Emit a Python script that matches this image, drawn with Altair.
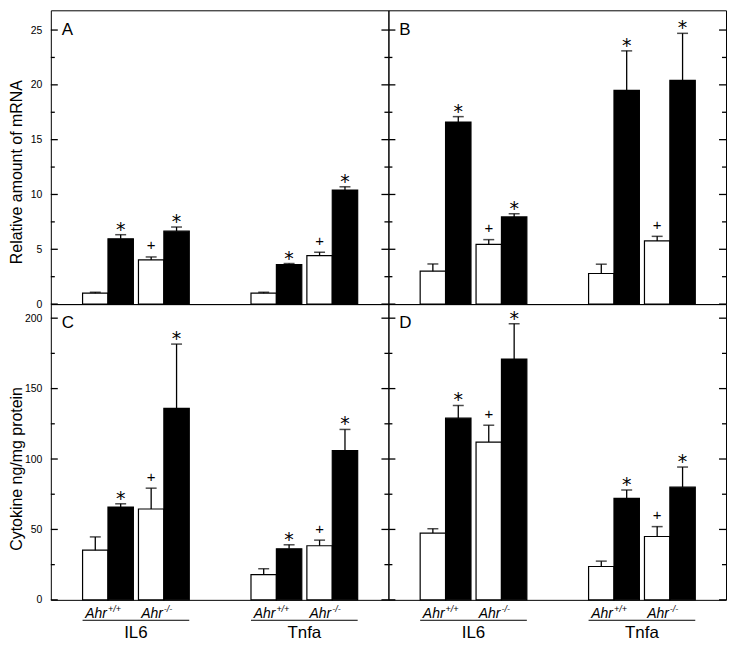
import altair as alt
import pandas as pd

# ---------------- data ----------------
genes = ["IL6", "Tnfa"]
genotypes = ["+/+", "-/-"]
treatments = ["control", "treated"]

# order per panel: IL6 +/+ ctrl, IL6 +/+ trt, IL6 -/- ctrl, IL6 -/- trt, Tnfa (same order)
a_mean = [1.0, 5.95, 4.03, 6.65, 1.0, 3.6, 4.42, 10.4]
a_sem = [0.08, 0.38, 0.27, 0.38, 0.08, 0.1, 0.31, 0.3]
b_mean = [3.0, 16.6, 5.45, 7.95, 2.79, 19.5, 5.76, 20.4]
b_sem = [0.66, 0.5, 0.43, 0.29, 0.85, 3.6, 0.42, 4.3]
c_mean = [35.3, 65.9, 64.5, 136.0, 17.9, 36.2, 38.4, 106.0]
c_sem = [9.4, 2.3, 14.8, 45.6, 4.2, 2.9, 4.0, 15.0]
d_mean = [47.4, 129.0, 112.0, 171.0, 23.7, 72.0, 45.0, 80.0]
d_sem = [3.1, 9.0, 12.0, 25.0, 3.8, 6.0, 7.0, 14.3]
signif = ["", "*", "+", "*", "", "*", "+", "*"]

mrna_ticks = [0, 5, 10, 15, 20, 25]
mrna_minor = [2.5, 7.5, 12.5, 17.5, 22.5]
prot_ticks = [0, 50, 100, 150, 200]
prot_minor = [25, 75, 125, 175]

# ---------------- layout (bar-width units) ----------------
BAR_W = 1.0
X_START = 1.25
GENE_STEP = 6.63
GENO_STEP = 2.2
X_MAX = 13.29
W = 339
H_TOP = 295
H_BOT = 297
FONT = "Liberation Sans"
MAJ = 7
MIN = 4

rows = []
i = 0
for g, gene in enumerate(genes):
    for k, geno in enumerate(genotypes):
        for t, tr in enumerate(treatments):
            s = X_START + g * GENE_STEP + k * GENO_STEP + t * BAR_W
            rows.append(dict(gene=gene, geno=geno, treat=tr, x0=s, x1=s + BAR_W,
                             xc=s + BAR_W / 2, sig=signif[i]))
            i += 1
base = pd.DataFrame(rows)

geno_df = (base[base.treat == "treated"][["gene", "geno", "x0"]]
           .rename(columns={"x0": "xc"}).reset_index(drop=True))
gene_df = base.groupby("gene", sort=False).agg(x0=("x0", "min"), x1=("x1", "max")).reset_index()
gene_df["xc"] = (gene_df.x0 + gene_df.x1) / 2

xs = alt.Scale(domain=[0, X_MAX], nice=False, zero=False)


def X(f):
    return alt.X(f, type="quantitative", scale=xs, axis=None)


def panel(mean, sem, ymax, majors, minors, letter, height, left, title, title_y, bottom):
    df = base.copy()
    df["value"] = mean
    df["upper"] = [m + e for m, e in zip(mean, sem)]
    ys = alt.Scale(domain=[0, ymax], nice=False, zero=True)

    if left:
        yax = alt.Axis(values=majors, orient="left", domain=False, grid=False, ticks=False,
                       labels=True, labelPadding=9, labelFontSize=10.5, labelColor="black",
                       labelFont=FONT, title=title, titleFontSize=16, titleFontWeight="normal",
                       titleFont=FONT, titleColor="black", titlePadding=4, minExtent=22,
                       maxExtent=22, titleY=title_y)
    else:
        yax = None

    bars = alt.Chart(df).mark_bar(stroke="black", strokeWidth=1.2).encode(
        x=X("x0"), x2="x1",
        y=alt.Y("value:Q", scale=ys, axis=yax),
        y2=alt.datum(0),
        fill=alt.Fill("treat:N", scale=alt.Scale(domain=treatments, range=["white", "black"]),
                      legend=None),
    )
    err = alt.Chart(df).mark_rule(color="black", strokeWidth=1.3).encode(
        x=X("xc"), y=alt.Y("value:Q", scale=ys, axis=None), y2="upper:Q",
    )
    caps = alt.Chart(df).mark_tick(orient="horizontal", color="black", thickness=1.5, size=11).encode(
        x=X("xc"), y=alt.Y("upper:Q", scale=ys, axis=None),
    )
    stars = alt.Chart(df[df.sig == "*"]).mark_text(
        font="DejaVu Sans", fontSize=19, baseline="alphabetic", align="center", dy=1, color="black"
    ).encode(x=X("xc"), y=alt.Y("upper:Q", scale=ys, axis=None), text="sig:N")
    plus = alt.Chart(df[df.sig == "+"]).mark_text(
        font=FONT, fontSize=15, baseline="alphabetic", align="center", dy=-6.5, color="black"
    ).encode(x=X("xc"), y=alt.Y("upper:Q", scale=ys, axis=None), text="sig:N")
    lab = alt.Chart(pd.DataFrame({"letter": [letter]})).mark_text(
        font=FONT, fontSize=17, align="left", baseline="alphabetic", color="black"
    ).encode(x=alt.value(11), y=alt.value(25 if height == H_TOP else 24), text="letter:N")

    # inward tick marks on both sides, placed through the y scale
    maj_df = pd.DataFrame({"v": majors})
    min_df = pd.DataFrame({"v": minors})
    tick_layers = []
    for tdf, ln in ((maj_df, MAJ), (min_df, MIN)):
        tick_layers.append(alt.Chart(tdf).mark_rule(color="black", strokeWidth=1.3).encode(
            y=alt.Y("v:Q", scale=ys, axis=None), x=alt.value(0), x2=alt.value(ln)))
        tick_layers.append(alt.Chart(tdf).mark_rule(color="black", strokeWidth=1.3).encode(
            y=alt.Y("v:Q", scale=ys, axis=None), x=alt.value(W - ln), x2=alt.value(W)))

    layers = [bars, err, caps, stars, plus, lab] + tick_layers
    if bottom:
        ahr = alt.Chart(geno_df).mark_text(
            font=FONT, fontSize=14, fontStyle="italic", align="right", baseline="alphabetic",
            dx=-1, color="black"
        ).encode(x=X("xc"), y=alt.value(height + 18), text=alt.value("Ahr"))
        sup = alt.Chart(geno_df).mark_text(
            font=FONT, fontSize=9, fontStyle="italic", align="left", baseline="alphabetic",
            dx=0, color="black"
        ).encode(x=X("xc"), y=alt.value(height + 12), text="geno:N")
        line = alt.Chart(gene_df).mark_rule(color="black", strokeWidth=1).encode(
            x=X("x0"), x2="x1", y=alt.value(height + 20.5))
        gl = alt.Chart(gene_df).mark_text(
            font=FONT, fontSize=17, align="center", baseline="alphabetic", color="black"
        ).encode(x=X("xc"), y=alt.value(height + 38), text="gene:N")
        layers += [ahr, sup, line, gl]

    return alt.layer(*layers).resolve_axis(y="independent").properties(width=W, height=height)


A = panel(a_mean, a_sem, 26.8, mrna_ticks, mrna_minor, "A", H_TOP, True,
          "Relative amount of mRNA", 162, False)
B = panel(b_mean, b_sem, 26.8, mrna_ticks, mrna_minor, "B", H_TOP, False, None, 0, False)
C = panel(c_mean, c_sem, 210, prot_ticks, prot_minor, "C", H_BOT, True,
          "Cytokine ng/mg protein", 165, True)
D = panel(d_mean, d_sem, 210, prot_ticks, prot_minor, "D", H_BOT, False, None, 0, True)

chart = alt.concat(A, B, C, D, columns=2, spacing=0, bounds="flush").properties(
    padding={"left": 0, "top": 0, "right": 0, "bottom": 0}
).configure(font=FONT, background="white").configure_view(stroke="black", strokeWidth=1)

chart.save("out.html", embed_options={"renderer": "svg", "actions": False})
